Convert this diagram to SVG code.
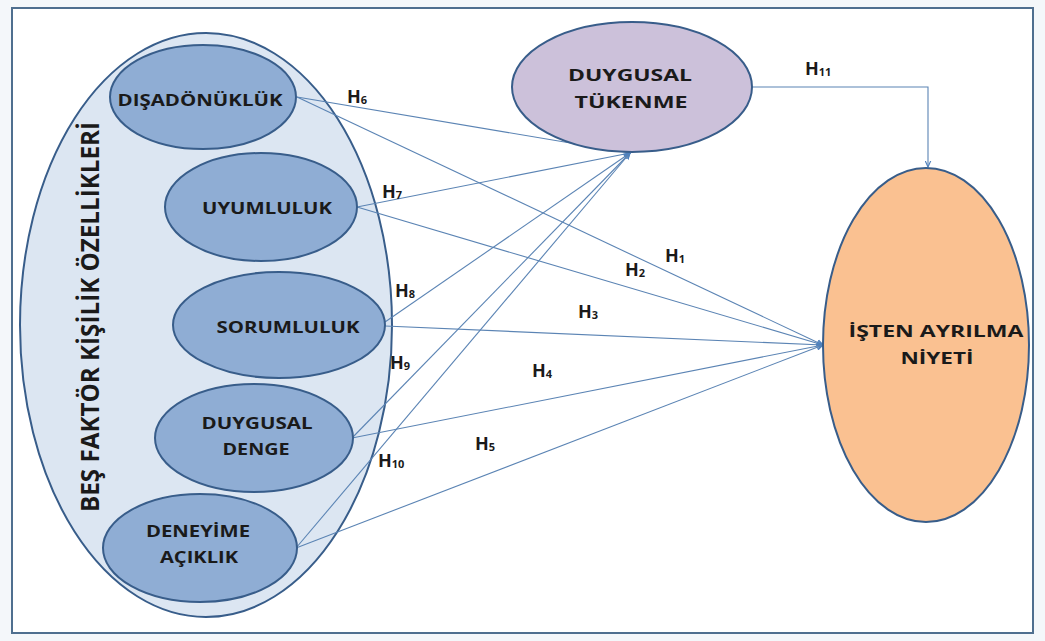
<svg xmlns="http://www.w3.org/2000/svg" width="1045" height="641" viewBox="0 0 1045 641">
<style>
.frame{fill:#ffffff;stroke:#4f6f8f;stroke-width:2}
.outer{fill:#dce6f2;stroke:#385d8a;stroke-width:2}
.inner{fill:#8fadd4;stroke:#385d8a;stroke-width:2}
.dt{fill:#ccc1da;stroke:#385d8a;stroke-width:2}
.ai{fill:#fac191;stroke:#385d8a;stroke-width:2}
.lbl{font-family:"Open Sans","Liberation Sans",sans-serif;font-weight:700;fill:#1a1a1a;text-anchor:middle}
.n{font-size:16.5px}
.big{font-size:25px}
.h{font-family:"Open Sans","Liberation Sans",sans-serif;font-weight:700;font-size:18px;fill:#1a1a1a}
.sub{font-size:11px}
.c{fill:none;stroke:#5b84b4;stroke-width:1.1}
</style>
<defs>
<marker id="arr" viewBox="0 0 10 10" refX="9" refY="5" markerWidth="7" markerHeight="7" orient="auto" markerUnits="userSpaceOnUse">
<path d="M0,1 L9,5 L0,9" fill="none" stroke="#4f81bd" stroke-width="1.6"/>
</marker>
</defs>
<rect x="0" y="0" width="1045" height="641" fill="#f4f7fa"/>
<rect class="frame" x="12" y="8" width="1021" height="625"/>

<g id="bes-faktor">
<ellipse class="outer" cx="206" cy="325" rx="186" ry="292"/>
<text class="lbl big" transform="translate(99,317) rotate(-90)" textLength="390" lengthAdjust="spacingAndGlyphs">BEŞ FAKTÖR KİŞİLİK ÖZELLİKLERİ</text>
</g>

<g id="connectors">
<line class="c" x1="297" y1="97" x2="630" y2="153" marker-end="url(#arr)"/>
<line class="c" x1="297" y1="97" x2="823" y2="345" marker-end="url(#arr)"/>
<line class="c" x1="357" y1="207" x2="630" y2="153" marker-end="url(#arr)"/>
<line class="c" x1="357" y1="207" x2="823" y2="345" marker-end="url(#arr)"/>
<line class="c" x1="385" y1="322" x2="630" y2="153" marker-end="url(#arr)"/>
<line class="c" x1="385" y1="326" x2="823" y2="345" marker-end="url(#arr)"/>
<line class="c" x1="352" y1="438" x2="630" y2="153" marker-end="url(#arr)"/>
<line class="c" x1="352" y1="438" x2="823" y2="345" marker-end="url(#arr)"/>
<line class="c" x1="296" y1="548" x2="630" y2="153" marker-end="url(#arr)"/>
<line class="c" x1="296" y1="548" x2="823" y2="345" marker-end="url(#arr)"/>
<path class="c" d="M752,87 H928 V167" marker-end="url(#arr)"/>
</g>

<g id="disadonukluk">
<ellipse class="inner" cx="203" cy="97" rx="93" ry="52"/>
<text class="lbl n" x="200" y="106" textLength="165" lengthAdjust="spacingAndGlyphs">DIŞADÖNÜKLÜK</text>
</g>
<g id="uyumluluk">
<ellipse class="inner" cx="261" cy="207" rx="96" ry="54"/>
<text class="lbl n" x="267" y="214" textLength="130" lengthAdjust="spacingAndGlyphs">UYUMLULUK</text>
</g>
<g id="sorumluluk">
<ellipse class="inner" cx="279" cy="325" rx="106" ry="53"/>
<text class="lbl n" x="288" y="333" textLength="143" lengthAdjust="spacingAndGlyphs">SORUMLULUK</text>
</g>
<g id="duygusal-denge">
<ellipse class="inner" cx="254" cy="438" rx="99" ry="54"/>
<text class="lbl n" x="257" y="429" textLength="111" lengthAdjust="spacingAndGlyphs">DUYGUSAL</text>
<text class="lbl n" x="256" y="455" textLength="67" lengthAdjust="spacingAndGlyphs">DENGE</text>
</g>
<g id="deneyime-aciklik">
<ellipse class="inner" cx="200" cy="548" rx="97" ry="54"/>
<text class="lbl n" x="198" y="537" textLength="104" lengthAdjust="spacingAndGlyphs">DENEYİME</text>
<text class="lbl n" x="199" y="563" textLength="78" lengthAdjust="spacingAndGlyphs">AÇIKLIK</text>
</g>
<g id="duygusal-tukenme">
<ellipse class="dt" cx="632" cy="87" rx="120" ry="65"/>
<text class="lbl n" x="630" y="81" textLength="124" lengthAdjust="spacingAndGlyphs">DUYGUSAL</text>
<text class="lbl n" x="631" y="108" textLength="113" lengthAdjust="spacingAndGlyphs">TÜKENME</text>
</g>
<g id="isten-ayrilma">
<ellipse class="ai" cx="926" cy="345" rx="103" ry="177"/>
<text class="lbl n" x="936" y="337" textLength="175" lengthAdjust="spacingAndGlyphs">İŞTEN AYRILMA</text>
<text class="lbl n" x="937" y="364" textLength="73" lengthAdjust="spacingAndGlyphs">NİYETİ</text>
</g>

<g id="labels">
<text class="h" x="347" y="103">H<tspan class="sub" dy="1">6</tspan></text>
<text class="h" x="382" y="198">H<tspan class="sub" dy="1">7</tspan></text>
<text class="h" x="665" y="262">H<tspan class="sub" dy="1">1</tspan></text>
<text class="h" x="625" y="276">H<tspan class="sub" dy="1">2</tspan></text>
<text class="h" x="578" y="318">H<tspan class="sub" dy="1">3</tspan></text>
<text class="h" x="395" y="297">H<tspan class="sub" dy="1">8</tspan></text>
<text class="h" x="390" y="369">H<tspan class="sub" dy="1">9</tspan></text>
<text class="h" x="532" y="377">H<tspan class="sub" dy="1">4</tspan></text>
<text class="h" x="475" y="450">H<tspan class="sub" dy="1">5</tspan></text>
<text class="h" x="378" y="467">H<tspan class="sub" dy="1">10</tspan></text>
<text class="h" x="805" y="75">H<tspan class="sub" dy="1">11</tspan></text>
</g>
</svg>
